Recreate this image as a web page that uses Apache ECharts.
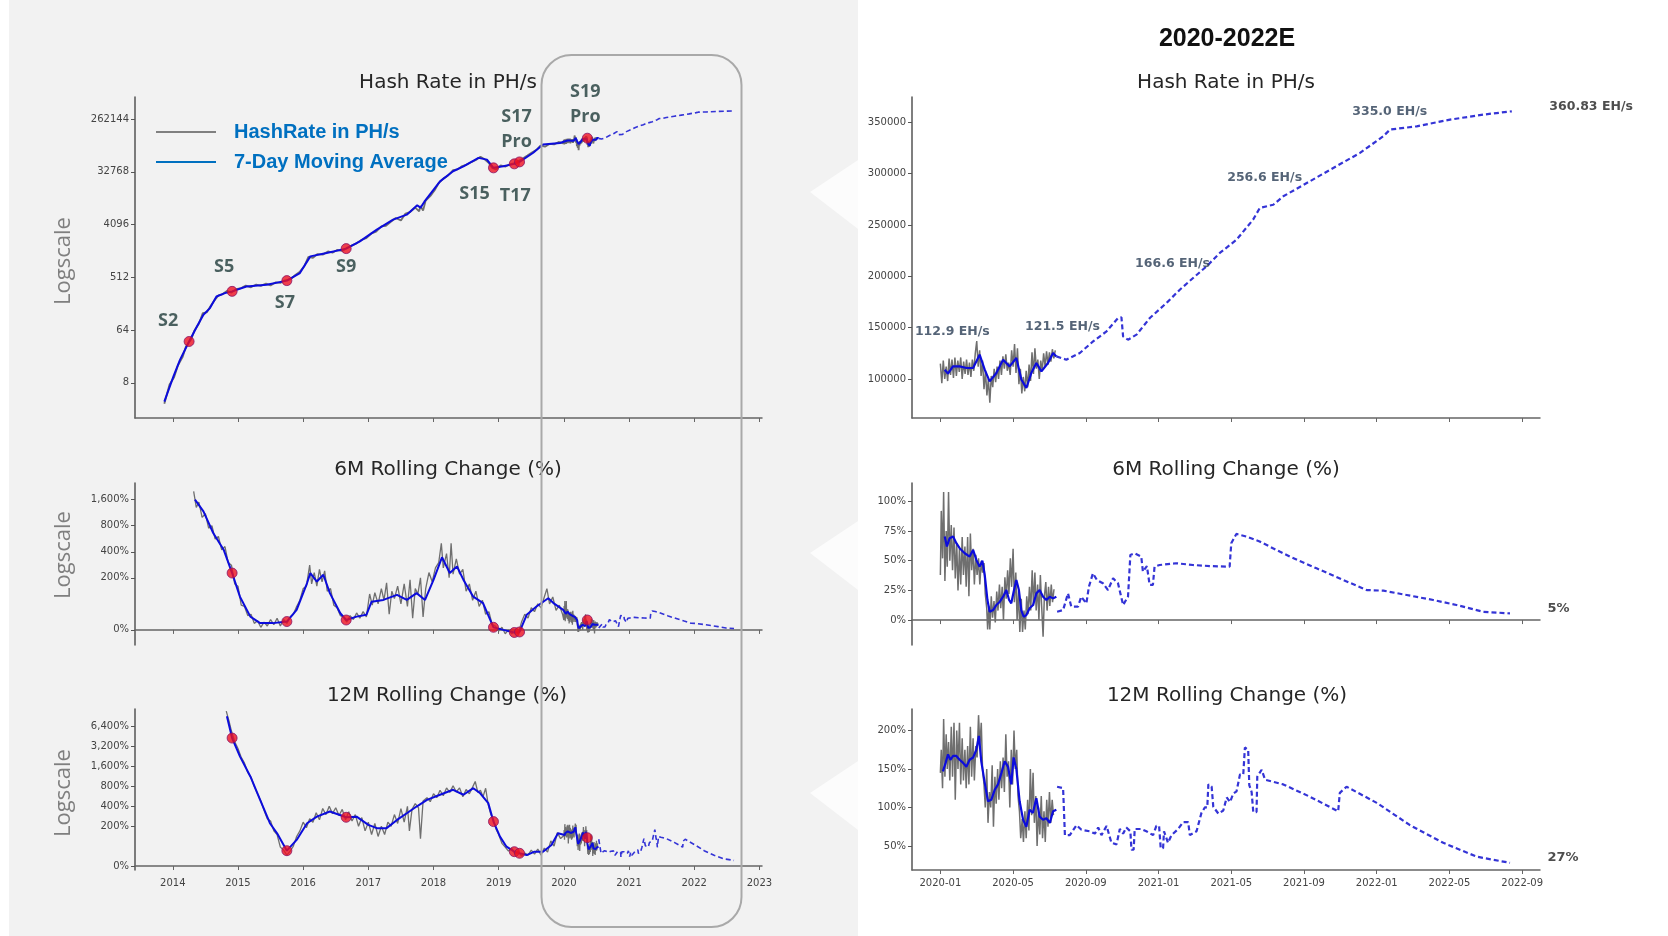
<!DOCTYPE html>
<html><head><meta charset="utf-8">
<script src="https://cdn.jsdelivr.net/npm/echarts@6/dist/echarts.min.js"></script>
<style>html,body{margin:0;padding:0;background:#fff}#c{width:1668px;height:936px}</style>
</head><body><div id="c"></div>
<script>
// ================= DATA =================
// ---- Left panel history (x = decimal year) ----
const histMaHash = [[2013.87,3.8],[2014.01,10.3],[2014.11,19.8],[2014.25,40.8],[2014.37,73.5],[2014.47,117],[2014.57,152],[2014.67,240],[2014.8,274],[2014.91,294],[2015.13,357],[2015.44,383],[2015.75,449],[2015.95,605],[2016.11,1168],[2016.36,1333],[2016.66,1585],[2016.87,2105],[2017.13,3350],[2017.38,4970],[2017.59,6040],[2017.75,8780],[2017.8,7900],[2017.86,10080],[2018.1,22400],[2018.3,33450],[2018.46,40600],[2018.69,56650],[2018.82,52850],[2018.92,38200],[2019.07,40600],[2019.24,44700],[2019.32,48300],[2019.53,69300],[2019.68,95900],[2019.94,102000]];
const histRawHash = [[2013.87,3.5],[2013.95,7.5],[2014.02,10],[2014.08,16],[2014.15,22],[2014.2,33],[2014.28,44],[2014.33,62],[2014.4,82],[2014.46,125],[2014.52,128],[2014.58,165],[2014.63,200],[2014.7,250],[2014.76,262],[2014.83,300],[2014.9,280],[2014.97,320],[2015.05,335],[2015.12,370],[2015.2,345],[2015.28,385],[2015.35,365],[2015.43,400],[2015.5,370],[2015.58,420],[2015.65,410],[2015.72,455],[2015.8,470],[2015.88,560],[2015.95,640],[2016.02,800],[2016.08,1150],[2016.15,1100],[2016.22,1280],[2016.3,1250],[2016.38,1420],[2016.45,1350],[2016.52,1500],[2016.6,1450],[2016.68,1650],[2016.75,1800],[2016.82,1950],[2016.9,2250],[2016.97,2400],[2017.05,2900],[2017.12,3100],[2017.2,3800],[2017.27,3900],[2017.35,4600],[2017.42,5300],[2017.5,4800],[2017.57,6300],[2017.64,6700],[2017.72,8000],[2017.78,6900],[2017.8,8500],[2017.84,7100],[2017.88,10500],[2017.95,12500],[2018.02,16000],[2018.08,21000],[2018.15,25000],[2018.22,28000],[2018.3,35000],[2018.37,36000],[2018.44,41000],[2018.5,43000],[2018.58,48000],[2018.65,52000],[2018.72,59000],[2018.78,54000],[2018.85,46000],[2018.9,38000],[2018.96,36000],[2019.03,42000],[2019.1,40000],[2019.17,44000],[2019.24,46000],[2019.3,50000],[2019.37,55000],[2019.44,62000],[2019.51,70000],[2019.58,78000],[2019.64,92000],[2019.71,88000],[2019.78,98000],[2019.85,96000],[2019.92,106000],[2019.99,100000]];
const histMa6M = [[2014.34,1600],[2014.47,1171],[2014.62,659],[2014.78,423],[2014.91,227],[2015.03,121],[2015.19,51],[2015.34,26],[2015.54,26],[2015.75,32],[2015.9,77],[2016.06,174],[2016.11,227],[2016.21,181],[2016.31,217],[2016.41,133],[2016.57,64],[2016.66,38],[2016.82,51],[2016.97,58],[2017.05,106],[2017.23,111],[2017.44,127],[2017.59,111],[2017.74,133],[2017.87,111],[2018.0,189],[2018.13,345],[2018.25,227],[2018.36,270],[2018.46,189],[2018.61,121],[2018.76,102],[2018.92,10],[2019.07,0],[2019.24,-10],[2019.32,-8],[2019.43,58],[2019.58,90],[2019.76,116],[2019.84,102],[2019.99,77]];
const histRaw6M = [[2014.32,2000],[2014.36,1300],[2014.4,1500],[2014.45,1000],[2014.5,1100],[2014.55,750],[2014.6,800],[2014.65,560],[2014.7,600],[2014.75,420],[2014.8,460],[2014.85,300],[2014.9,280],[2014.95,170],[2015.0,160],[2015.05,95],[2015.1,90],[2015.15,55],[2015.2,60],[2015.25,25],[2015.3,35],[2015.35,10],[2015.4,30],[2015.45,15],[2015.5,40],[2015.55,20],[2015.6,45],[2015.65,15],[2015.7,40],[2015.75,25],[2015.8,50],[2015.85,60],[2015.9,90],[2015.95,110],[2016.0,150],[2016.05,160],[2016.1,280],[2016.13,170],[2016.17,230],[2016.21,160],[2016.25,250],[2016.29,180],[2016.33,240],[2016.37,140],[2016.42,150],[2016.47,95],[2016.52,85],[2016.57,55],[2016.62,50],[2016.67,30],[2016.72,55],[2016.77,40],[2016.82,65],[2016.87,45],[2016.92,70],[2016.97,50],[2017.02,130],[2017.06,95],[2017.1,135],[2017.15,100],[2017.2,150],[2017.24,110],[2017.28,175],[2017.32,60],[2017.36,140],[2017.4,115],[2017.45,160],[2017.5,100],[2017.55,170],[2017.6,90],[2017.64,190],[2017.68,45],[2017.72,150],[2017.76,130],[2017.8,200],[2017.84,50],[2017.88,150],[2017.93,230],[2017.98,180],[2018.03,260],[2018.08,300],[2018.12,500],[2018.15,260],[2018.2,380],[2018.24,200],[2018.27,500],[2018.3,220],[2018.35,330],[2018.4,220],[2018.45,250],[2018.5,140],[2018.55,170],[2018.6,110],[2018.65,140],[2018.7,90],[2018.75,110],[2018.8,60],[2018.85,70],[2018.9,20],[2018.95,15],[2019.0,-5],[2019.05,10],[2019.1,-15],[2019.15,0],[2019.2,-15],[2019.25,-5],[2019.3,-15],[2019.35,30],[2019.4,60],[2019.45,45],[2019.5,85],[2019.55,70],[2019.6,100],[2019.65,85],[2019.7,120],[2019.74,150],[2019.78,100],[2019.83,120],[2019.88,75],[2019.93,95],[2019.98,60]];
const histMa12M = [[2014.83,9180],[2014.91,4310],[2015.03,2280],[2015.19,1131],[2015.34,500],[2015.49,222],[2015.6,156],[2015.75,77],[2015.9,124],[2016.06,222],[2016.21,279],[2016.41,334],[2016.66,273],[2016.82,279],[2017.0,210],[2017.13,187],[2017.28,187],[2017.44,249],[2017.59,314],[2017.74,397],[2017.9,500],[2018.1,598],[2018.3,711],[2018.46,598],[2018.61,752],[2018.71,640],[2018.84,447],[2018.92,235],[2019.02,139],[2019.12,97],[2019.24,72],[2019.32,64],[2019.43,55],[2019.55,72],[2019.68,72],[2019.81,104],[2019.91,157]];
const histRaw12M = [[2014.82,11000],[2014.86,8000],[2014.9,5500],[2014.95,3800],[2015.0,3000],[2015.05,2200],[2015.1,1800],[2015.15,1300],[2015.2,1100],[2015.25,800],[2015.3,620],[2015.35,480],[2015.4,350],[2015.45,260],[2015.5,240],[2015.55,170],[2015.6,150],[2015.65,95],[2015.7,80],[2015.75,55],[2015.8,75],[2015.85,100],[2015.9,140],[2015.95,170],[2016.0,230],[2016.05,190],[2016.1,260],[2016.15,230],[2016.2,320],[2016.25,250],[2016.3,370],[2016.35,300],[2016.4,400],[2016.45,310],[2016.5,380],[2016.55,290],[2016.6,360],[2016.65,250],[2016.7,330],[2016.75,240],[2016.8,300],[2016.85,200],[2016.9,270],[2016.95,170],[2017.0,230],[2017.05,150],[2017.1,220],[2017.15,140],[2017.2,200],[2017.25,150],[2017.3,230],[2017.35,200],[2017.4,300],[2017.45,220],[2017.5,370],[2017.55,230],[2017.6,400],[2017.63,170],[2017.67,360],[2017.72,440],[2017.77,380],[2017.8,130],[2017.84,480],[2017.9,540],[2017.95,470],[2018.0,620],[2018.05,540],[2018.1,700],[2018.15,580],[2018.2,760],[2018.25,650],[2018.3,820],[2018.35,660],[2018.4,760],[2018.45,560],[2018.5,720],[2018.55,620],[2018.6,780],[2018.64,950],[2018.68,650],[2018.72,700],[2018.76,560],[2018.8,750],[2018.84,420],[2018.88,300],[2018.92,250],[2018.96,180],[2019.0,150],[2019.05,110],[2019.1,95],[2019.15,75],[2019.2,90],[2019.25,60],[2019.3,75],[2019.35,50],[2019.4,65],[2019.45,55],[2019.5,80],[2019.55,60],[2019.6,85],[2019.65,55],[2019.7,90],[2019.75,70],[2019.8,120],[2019.85,100],[2019.9,160],[2019.95,130]];

// ---- 2020-2022E panel (x = months since 2020-01) ----
const rawHash20 = [[0,115000],[0.08,96000],[0.16,118000],[0.24,100000],[0.32,112000],[0.4,98000],[0.48,120000],[0.56,104000],[0.64,119000],[0.72,101000],[0.8,121000],[0.88,103000],[0.96,118000],[1.04,107000],[1.12,121000],[1.2,100000],[1.28,117000],[1.36,105000],[1.44,119000],[1.52,104000],[1.6,116000],[1.68,102000],[1.76,119000],[1.84,108000],[1.92,125000],[2.0,137000],[2.08,112000],[2.16,128000],[2.24,103000],[2.32,118000],[2.4,90000],[2.48,108000],[2.56,84000],[2.64,100000],[2.72,77000],[2.8,103000],[2.88,92000],[2.96,110000],[3.04,97000],[3.12,112000],[3.2,100000],[3.28,118000],[3.36,104000],[3.44,122000],[3.52,110000],[3.6,124000],[3.68,108000],[3.76,116000],[3.84,104000],[3.92,128000],[4.0,112000],[4.08,134000],[4.16,106000],[4.24,130000],[4.32,95000],[4.4,110000],[4.48,86000],[4.56,102000],[4.64,88000],[4.72,108000],[4.8,92000],[4.88,114000],[4.96,98000],[5.04,126000],[5.12,105000],[5.2,130000],[5.28,110000],[5.36,119000],[5.44,100000],[5.52,118000],[5.6,108000],[5.68,125000],[5.76,112000],[5.84,127000],[5.92,114000],[6.0,126000],[6.08,117000],[6.16,129000],[6.24,120000],[6.32,128000]];
const maHash20 = [[0.24,109000],[0.42,105200],[0.69,112300],[1.06,112300],[1.43,110700],[1.8,110700],[2.16,123700],[2.44,109100],[2.71,97700],[3.08,105800],[3.45,118800],[3.81,112300],[4.18,120500],[4.46,99300],[4.73,91200],[5.0,105800],[5.28,115600],[5.56,107400],[5.92,115600],[6.2,125300],[6.38,122000]];
const fcHash = [[6.38,122000],[6.93,118800],[7.67,125300],[8.4,136600],[9.14,146400],[9.77,159400],[9.96,160000],[10.05,141500],[10.32,138300],[10.79,143200],[11.52,159400],[12.44,174100],[13.17,187000],[13.9,198400],[14.64,209700],[15.37,222800],[16.29,235700],[17.2,255300],[17.57,266600],[18.31,269800],[18.86,278000],[20.32,292600],[21.61,305600],[23.08,320300],[24.36,336500],[24.73,343000],[26.2,346200],[28.03,352700],[29.86,357600],[31.43,360830]];
const raw6M20 = [[0,38],[0.05,92],[0.12,52],[0.18,108],[0.25,33],[0.32,75],[0.38,45],[0.45,108],[0.52,50],[0.6,80],[0.67,42],[0.75,78],[0.82,35],[0.9,65],[0.97,25],[1.05,60],[1.12,30],[1.2,70],[1.27,38],[1.35,62],[1.42,28],[1.5,70],[1.57,20],[1.65,73],[1.72,42],[1.8,60],[1.87,30],[1.95,55],[2.02,38],[2.1,52],[2.17,30],[2.25,50],[2.32,40],[2.4,48],[2.47,22],[2.55,10],[2.6,-8],[2.67,12],[2.72,-8],[2.8,20],[2.87,2],[2.95,16],[3.02,-2],[3.1,24],[3.17,8],[3.25,30],[3.32,10],[3.4,28],[3.47,0],[3.55,36],[3.62,18],[3.7,42],[3.77,22],[3.85,52],[3.92,28],[4.0,60],[4.07,15],[4.15,40],[4.22,0],[4.3,25],[4.37,-10],[4.45,18],[4.52,-10],[4.6,8],[4.67,-8],[4.75,20],[4.82,5],[4.9,28],[4.97,8],[5.05,42],[5.12,12],[5.2,40],[5.27,8],[5.35,30],[5.42,0],[5.5,38],[5.57,12],[5.65,-14],[5.72,20],[5.8,32],[5.87,8],[5.95,28],[6.02,12],[6.1,30],[6.17,15],[6.25,26]];
const ma6M20 = [[0.24,70.4],[0.36,62],[0.51,69],[0.7,70.4],[0.88,64.8],[1.06,60.6],[1.34,56.3],[1.61,53.5],[1.8,59.1],[1.98,50.7],[2.16,45],[2.31,50.1],[2.44,38],[2.59,16.9],[2.71,7],[2.9,8.4],[3.08,12.7],[3.27,15.5],[3.45,19.7],[3.63,25.3],[3.78,16.9],[3.9,14.1],[4.03,23.9],[4.18,33.8],[4.32,25.3],[4.45,8.4],[4.58,2.8],[4.73,4.2],[4.91,9.9],[5.1,12.7],[5.28,22.5],[5.46,25.3],[5.65,19.7],[5.83,16.9],[6.02,19.7],[6.2,18.3],[6.38,19.7]];
const fc6M = [[6.42,7],[6.75,8.4],[7.02,22.5],[7.2,11.3],[7.57,11.3],[7.75,19.7],[8.03,14.1],[8.17,28.1],[8.39,39.4],[8.61,33.8],[8.94,31],[9.22,25.3],[9.5,35.2],[9.77,31],[10.05,12.7],[10.32,19.7],[10.45,54.9],[10.69,56.3],[11.05,53.5],[11.14,40.8],[11.36,45.5],[11.51,29.6],[11.69,29.6],[11.78,45],[12.06,46.4],[12.97,47.9],[13.89,46.4],[14.81,45.5],[15.91,45],[16.0,64.8],[16.28,72.6],[16.83,70.4],[17.56,66.2],[18.12,61.9],[18.66,57.7],[19.22,53.5],[20.69,43.6],[22.16,33.8],[23.45,25.3],[24.37,24.8],[25.65,21.1],[27.11,16.9],[28.39,12.7],[29.86,7],[31.33,5.6]];
const raw12M20 = [[0,145],[0.05,175],[0.12,125],[0.18,215],[0.25,140],[0.32,195],[0.38,150],[0.45,185],[0.52,135],[0.6,205],[0.67,140],[0.75,210],[0.82,110],[0.9,200],[0.97,150],[1.05,210],[1.12,130],[1.2,190],[1.27,135],[1.35,175],[1.42,125],[1.5,180],[1.57,130],[1.65,205],[1.72,140],[1.8,190],[1.87,135],[1.95,180],[2.02,165],[2.1,220],[2.17,180],[2.25,210],[2.32,150],[2.4,130],[2.47,100],[2.55,150],[2.62,80],[2.7,120],[2.77,100],[2.85,155],[2.92,75],[3.0,140],[3.07,105],[3.15,150],[3.22,110],[3.3,160],[3.37,125],[3.45,165],[3.52,120],[3.6,195],[3.67,140],[3.75,160],[3.82,100],[3.9,175],[3.97,130],[4.05,200],[4.12,150],[4.2,175],[4.27,115],[4.35,95],[4.42,60],[4.5,85],[4.57,55],[4.65,95],[4.72,60],[4.8,110],[4.87,70],[4.95,150],[5.02,90],[5.1,145],[5.17,80],[5.25,115],[5.32,50],[5.4,100],[5.47,65],[5.55,115],[5.62,60],[5.7,95],[5.77,55],[5.85,110],[5.92,75],[6.0,120],[6.07,80],[6.15,110],[6.22,90]];
const ma12M20 = [[0.14,147],[0.29,158],[0.42,169],[0.55,162],[0.7,167],[0.88,167],[1.06,162],[1.25,158],[1.43,153],[1.61,162],[1.8,165],[1.98,175],[2.12,193],[2.25,160],[2.44,132],[2.62,108],[2.8,110],[2.99,123],[3.17,130],[3.36,145],[3.54,160],[3.72,153],[3.9,130],[4.03,165],[4.18,150],[4.36,108],[4.55,84],[4.73,75],[4.91,97],[5.09,93],[5.28,112],[5.46,88],[5.65,84],[5.83,86],[6.02,80],[6.2,95],[6.38,97]];
const fc12M = [[6.42,127],[6.75,125],[6.85,64],[7.12,64],[7.49,77],[7.76,71],[8.22,69],[8.5,66],[8.68,74],[8.86,64],[9.14,76],[9.41,54],[9.69,52],[9.87,72],[10.05,66],[10.23,74],[10.45,69],[10.51,45],[10.63,45],[10.69,72],[11.06,72],[11.33,69],[11.7,64],[11.88,76],[12.03,76],[12.12,47],[12.25,47],[12.3,69],[12.52,54],[12.71,64],[13.08,72],[13.35,81],[13.63,81],[13.72,64],[14.09,69],[14.36,93],[14.55,100],[14.68,100],[14.74,130],[14.92,127],[15.01,101],[15.29,92],[15.56,96],[15.75,113],[15.93,107],[16.11,118],[16.29,121],[16.48,143],[16.66,143],[16.75,178],[16.93,175],[16.99,129],[17.12,120],[17.21,94],[17.39,94],[17.43,140],[17.67,149],[17.86,136],[18.86,130],[20.32,114],[21.88,95],[21.97,119],[22.34,127],[24.0,106],[25.83,77],[27.66,54],[29.5,36],[31.33,28]];

// ---- Miner model releases ----
const modelNames = ['S2','S5','S7','S9','S15','T17','S17\nPro','S19\nPro'];
const modelYears = [2014.25,2014.91,2015.75,2016.66,2018.92,2019.24,2019.32,2020.36];
const modelHash = [40.8,294,449,1585,38200,44700,48300,123000];
const model6M = [null,227,32,38,10,-10,-8,38];
const model12M = [null,4310,77,273,235,72,64,134];

// ---- Annotations ----
const annoMonths = [0,6,12,18,24];
const annoHash = [112900,121500,166600,256600,335000];
const annoText = ['112.9 EH/s','121.5 EH/s','166.6 EH/s','256.6 EH/s','335.0 EH/s'];
const endText = ['360.83 EH/s','5%','27%'];

// ---- Ticks ----
const hashTicks = [8,64,512,4096,32768,262144];
const pct6MTicks = [0,200,400,800,1600];
const pct12MTicks = [0,200,400,800,1600,3200,6400];
const yearTicks = [2014,2015,2016,2017,2018,2019,2020,2021,2022,2023];
const monthTicks = ['2020-01','2020-05','2020-09','2021-01','2021-05','2021-09','2022-01','2022-05','2022-09'];
const rHashTicks = [100000,150000,200000,250000,300000,350000];
const r6MTicks = [0,25,50,75,100];
const r12MTicks = [50,100,150,200];

// ================= HELPERS =================
const sym = p => p <= 100 ? p / 100 : Math.log2(p / 50);          // symmetric-log % scale
const unsym = t => t <= 1 ? t * 100 : 50 * Math.pow(2, t);
const lg = v => Math.log2(v);
const m2y = m => 2020 + m / 12;
const ym2m = s => (parseInt(s.slice(0,4)) - 2020) * 12 + parseInt(s.slice(5,7)) - 1;
const mLabel = v => { const y = 2020 + Math.floor(v / 12), mo = Math.round(v - (y - 2020) * 12) + 1; return y + '-' + String(mo).padStart(2,'0'); };
const toYears = arr => arr.map(d => [m2y(d[0]), d[1]]);
const tr = (arr, f) => arr.map(d => [d[0], f(d[1])]);

const GRAY = '#6f6f6f', BLUE = '#0c0cdc', DASH = '#3434d6', RED = '#ee1020';
const LBL = {fontFamily:'DejaVu Sans', fontSize:10, color:'#444'};
const NAME_RAW = 'HashRate in PH/s', NAME_MA = '7-Day Moving Average';
const BOLD_SANS = "'Liberation Sans', Arial, sans-serif";

const grids = [
  {left:135, top:97, width:627, height:321},
  {left:135, top:483, width:627, height:162},
  {left:135, top:709, width:627, height:161},
  {left:912, top:97, width:628, height:321},
  {left:912, top:483, width:628, height:162},
  {left:912, top:709, width:628, height:161}
];

function xAx(i, min, max, ticks, showLabel, fmt) {
  return {gridIndex:i, type:'value', min, max,
    axisLine:{onZero:true, lineStyle:{color:'#666', width:1.5}},
    axisTick:{customValues:ticks, length:4, lineStyle:{color:'#666'}},
    axisLabel:Object.assign({show:showLabel, customValues:ticks, formatter:fmt, margin:8}, LBL),
    splitLine:{show:false}};
}
function yAx(i, min, max, ticks, fmt) {
  return {gridIndex:i, type:'value', min, max,
    axisLine:{show:true, onZero:false, lineStyle:{color:'#555', width:1.5}},
    axisTick:{show:true, customValues:ticks, length:4, lineStyle:{color:'#555'}},
    axisLabel:Object.assign({customValues:ticks, formatter:fmt, margin:6}, LBL),
    splitLine:{show:false}};
}
function ln(name, i, data, color, width, dashed, z) {
  return {type:'line', name, xAxisIndex:i, yAxisIndex:i, data, showSymbol:false, symbol:'none',
    lineStyle:{color, width, type: dashed ? [5,3] : 'solid'}, itemStyle:{color}, z: z || 2, silent:true};
}
function dots(i, xs, vs, f) {
  const d = [];
  xs.forEach((x, k) => { if (vs[k] != null) d.push([x, f(vs[k])]); });
  return {type:'scatter', xAxisIndex:i, yAxisIndex:i, data:d, symbolSize:10, z:5, silent:true,
    itemStyle:{color:RED, borderColor:'#8a1466', borderWidth:1}};
}

const yearFmt = v => String(Math.round(v));
const pctFmt = v => Math.round(unsym(v)).toLocaleString('en-US') + '%';

// label offsets for model names (relative to dot centre)
const modelLabelOffsets = [[-21,-21],[-8,-24],[-2,22],[0,18],[-19,26],[1,32],[-3,-33],[-2,-34]];
const annoOffsets = [[12,-34],[13,-30],[14,-47],[-3,-41],[13,-26]];

// ================= SERIES =================
const series = [
  // left top
  ln(NAME_RAW, 0, tr(histRawHash.concat(toYears(rawHash20)), lg), GRAY, 1.8),
  ln(NAME_MA, 0, tr(histMaHash.concat(toYears(maHash20)), lg), BLUE, 2, false, 3),
  ln('fcHashL', 0, tr(toYears(fcHash), lg), DASH, 1.6, true, 3),
  Object.assign(dots(0, modelYears, modelHash, lg), {
    data: modelYears.map((x, k) => ({value:[x, lg(modelHash[k])], label:{offset:modelLabelOffsets[k]}})),
    label:{show:true, position:'inside', formatter:p => modelNames[p.dataIndex],
      fontFamily:'Open Sans', fontWeight:'bold', fontSize:18, lineHeight:25, color:'#1f3b3a'}}),
  // left 6M
  ln(NAME_RAW, 1, tr(histRaw6M.concat(toYears(raw6M20)), sym), GRAY, 1.3),
  ln(NAME_MA, 1, tr(histMa6M.concat(toYears(ma6M20)), sym), BLUE, 2, false, 3),
  ln('fc6ML', 1, tr(toYears(fc6M), sym), DASH, 1.6, true, 3),
  dots(1, modelYears, model6M, sym),
  // left 12M
  ln(NAME_RAW, 2, tr(histRaw12M.concat(toYears(raw12M20)), sym), GRAY, 1.3),
  ln(NAME_MA, 2, tr(histMa12M.concat(toYears(ma12M20)), sym), BLUE, 2, false, 3),
  ln('fc12ML', 2, tr(toYears(fc12M), sym), DASH, 1.6, true, 3),
  dots(2, modelYears, model12M, sym),
  // right top
  ln(NAME_RAW, 3, rawHash20, GRAY, 1.5),
  ln(NAME_MA, 3, maHash20, BLUE, 2.2, false, 3),
  ln('fcHashR', 3, fcHash, DASH, 2.2, true, 3),
  // right 6M
  ln(NAME_RAW, 4, raw6M20, GRAY, 1.5),
  ln(NAME_MA, 4, ma6M20, BLUE, 2.2, false, 3),
  ln('fc6MR', 4, fc6M, DASH, 2.2, true, 3),
  // right 12M
  ln(NAME_RAW, 5, raw12M20, GRAY, 1.5),
  ln(NAME_MA, 5, ma12M20, BLUE, 2.2, false, 3),
  ln('fc12MR', 5, fc12M, DASH, 2.2, true, 3),
  // annotations right top
  {type:'scatter', xAxisIndex:3, yAxisIndex:3, silent:true, clip:false, symbolSize:1, z:6,
    itemStyle:{color:'rgba(0,0,0,0)'},
    data: annoMonths.map((m, k) => ({value:[m, annoHash[k]], label:{offset:annoOffsets[k]}})),
    label:{show:true, position:'inside', formatter:p => annoText[p.dataIndex],
      fontFamily:'DejaVu Sans', fontWeight:'bold', fontSize:12.5, color:'#2b3d55'}},
];
// end labels
[[3, fcHash], [4, fc6M], [5, fc12M]].forEach(([i, arr], k) => {
  series.push({type:'scatter', xAxisIndex:i, yAxisIndex:i, silent:true, clip:false, symbolSize:1, z:6,
    itemStyle:{color:'rgba(0,0,0,0)'}, data:[arr[arr.length - 1]],
    label:{show:true, position:'right', distance:37, offset:[0,-5], formatter:endText[k],
      fontFamily:'DejaVu Sans', fontWeight:'bold', fontSize: k === 0 ? 12.5 : 13, color:'#222'}});
});

const mTicks = monthTicks.map(ym2m);

const titleStyle = {fontFamily:'DejaVu Sans', fontSize:20, fontWeight:'normal', color:'#262626'};
const mkTitle = (text, cx, cy) => ({text, left:cx, top:cy - 8, textAlign:'center', padding:0, textStyle:titleStyle});

const option = {
  animation:false,
  backgroundColor:'#ffffff',
  title:[
    {text:'2020-2022E', left:1227, top:27, textAlign:'center', padding:0,
      textStyle:{fontFamily:BOLD_SANS, fontSize:25, fontWeight:'bold', color:'#111'}},
    mkTitle('Hash Rate in PH/s', 448, 81), mkTitle('Hash Rate in PH/s', 1226, 81),
    mkTitle('6M Rolling Change (%)', 448, 468), mkTitle('6M Rolling Change (%)', 1226, 468),
    mkTitle('12M Rolling Change (%)', 447, 694), mkTitle('12M Rolling Change (%)', 1227, 694)
  ],
  legend:{left:151, top:116, orient:'vertical', icon:'rect', itemWidth:60, itemHeight:2, itemGap:8,
    selectedMode:false,
    data:[{name:NAME_RAW, itemStyle:{color:'#808080'}}, {name:NAME_MA, itemStyle:{color:'#0070c0'}}],
    textStyle:{fontFamily:BOLD_SANS, fontSize:20, fontWeight:'bold', lineHeight:22,
      color:'#0070c0', padding:[0,0,0,13]}},
  grid:grids,
  xAxis:[
    xAx(0, 2013.42, 2023.04, yearTicks, false, yearFmt),
    xAx(1, 2013.42, 2023.04, yearTicks, false, yearFmt),
    xAx(2, 2013.42, 2023.04, yearTicks, true, yearFmt),
    xAx(3, -1.56, 32.98, mTicks, false, mLabel),
    xAx(4, -1.56, 32.98, mTicks, false, mLabel),
    xAx(5, -1.56, 32.98, mTicks, true, mLabel)
  ],
  yAxis:[
    yAx(0, 1, 19.25, hashTicks.map(lg), v => String(Math.round(Math.pow(2, v)))),
    yAx(1, -0.58, 5.64, pct6MTicks.map(sym), pctFmt),
    yAx(2, -0.2, 7.89, pct12MTicks.map(sym), pctFmt),
    yAx(3, 62000, 374750, rHashTicks, v => String(v)),
    yAx(4, -21, 115.5, r6MTicks, v => v + '%'),
    yAx(5, 18.7, 228, r12MTicks, v => v + '%')
  ],
  graphic:[
    {type:'rect', z:-10, silent:true, shape:{x:9, y:0, width:849, height:936}, style:{fill:'#f2f2f2'}},
    {type:'polygon', z:-9, silent:true, shape:{points:[[810,192],[858,160],[858,229]]}, style:{fill:'#fcfcfc'}},
    {type:'polygon', z:-9, silent:true, shape:{points:[[810,553],[858,521],[858,590]]}, style:{fill:'#fcfcfc'}},
    {type:'polygon', z:-9, silent:true, shape:{points:[[810,793],[858,761],[858,830]]}, style:{fill:'#fcfcfc'}},
    {type:'rect', z:100, silent:true, shape:{x:541.5, y:55, width:200, height:872, r:30},
      style:{fill:null, stroke:'#a9a9a9', lineWidth:2}},
    {type:'text', z:10, silent:true, x:64, y:261, rotation:Math.PI/2,
      style:{text:'Logscale', font:'22px "Open Sans"', fill:'#7f7f7f', align:'center', verticalAlign:'middle'}},
    {type:'text', z:10, silent:true, x:64, y:555, rotation:Math.PI/2,
      style:{text:'Logscale', font:'22px "Open Sans"', fill:'#7f7f7f', align:'center', verticalAlign:'middle'}},
    {type:'text', z:10, silent:true, x:64, y:793, rotation:Math.PI/2,
      style:{text:'Logscale', font:'22px "Open Sans"', fill:'#7f7f7f', align:'center', verticalAlign:'middle'}}
  ],
  series
};

const chart = echarts.init(document.getElementById('c'), null, {renderer:'canvas'});
chart.setOption(option);
</script></body></html>
